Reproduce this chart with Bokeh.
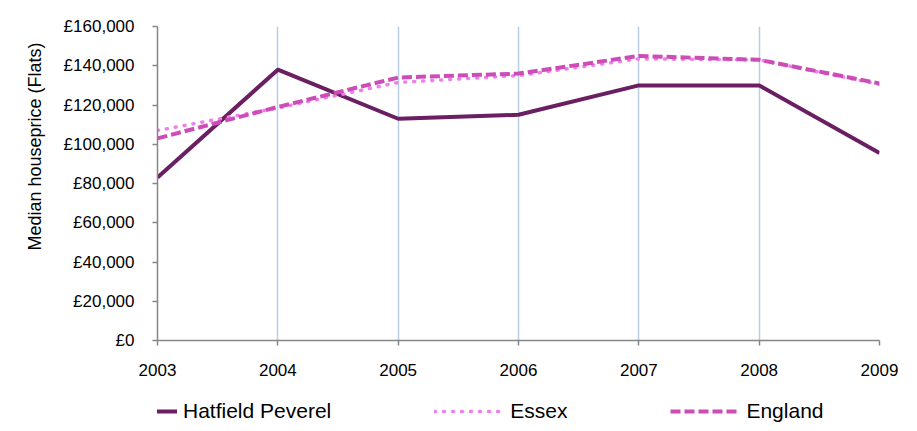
from bokeh.plotting import figure
from bokeh.layouts import column
from bokeh.models import (Range1d, FixedTicker, Legend, LegendItem, Title,
                          ColumnDataSource)
from bokeh.embed import file_html
from bokeh.resources import INLINE

years = [2003, 2004, 2005, 2006, 2007, 2008, 2009]
hatfield = [83000, 138000, 113000, 115000, 130000, 130000, 95500]
essex = [107000, 118500, 131500, 135000, 143500, 143000, 130500]
england = [103000, 119000, 134000, 136000, 145000, 143000, 131000]

y_ticks = [0, 20000, 40000, 60000, 80000, 100000, 120000, 140000, 160000]
y_tick_labels = ["£0", "£20,000", "£40,000", "£60,000", "£80,000",
                 "£100,000", "£120,000", "£140,000", "£160,000"]
x_tick_labels = ["2003", "2004", "2005", "2006", "2007", "2008", "2009"]

series_names = ["Hatfield Peverel", "Essex", "England"]
y_title = "Median houseprice (Flats)"

FONT = "Liberation Sans"
COLORS = ["#6A1F62", "#F07EEE", "#CC4CB8"]
WIDTHS = [4, 3.5, 4]
DASHES = ["solid", "1 8", "10 4"]
CAPS = ["butt", "round", "butt"]
COLS = ["hatfield", "essex", "england"]

fig = figure(width=909, height=383, output_backend="svg", toolbar_location=None,
             x_range=Range1d(2003, 2009), y_range=Range1d(0, 160000),
             min_border_left=157, min_border_right=30, min_border_top=26,
             min_border_bottom=43)
fig.outline_line_color = None
fig.background_fill_color = "white"
fig.border_fill_color = "white"

fig.ygrid.grid_line_color = None
fig.xgrid.grid_line_color = "#B9CDE5"
fig.xgrid.grid_line_width = 1.5
fig.xgrid.ticker = FixedTicker(ticks=years)

fig.yaxis.ticker = FixedTicker(ticks=y_ticks)
fig.yaxis.major_label_overrides = {t: l for t, l in zip(y_ticks, y_tick_labels)}
fig.xaxis.ticker = FixedTicker(ticks=years)
fig.xaxis.major_label_overrides = {t: l for t, l in zip(years, x_tick_labels)}
for ax in (fig.xaxis[0], fig.yaxis[0]):
    ax.axis_line_color = "#868686"
    ax.axis_line_width = 1.5
    ax.major_tick_line_color = "#868686"
    ax.major_tick_line_width = 1.5
    ax.major_tick_in = 0
    ax.major_tick_out = 5
    ax.minor_tick_line_color = None
    ax.major_label_text_font = FONT
    ax.major_label_text_font_size = "17px"
    ax.major_label_text_color = "black"
fig.yaxis.major_label_standoff = 18
fig.xaxis.major_label_standoff = 18

src = ColumnDataSource(dict(year=years, hatfield=hatfield, essex=essex, england=england))
for col, c, w, d, cap in zip(COLS, COLORS, WIDTHS, DASHES, CAPS):
    fig.line("year", col, source=src, line_color=c, line_width=w, line_dash=d,
             line_cap=cap, line_join="round")

title = Title(text=y_title, align="right", offset=16, text_font=FONT,
              text_font_size="18px", text_font_style="normal", text_color="black",
              standoff=32)
fig.add_layout(title, "left")

# legend strip below the chart (its own series lie outside its visible range)
lf = figure(width=909, height=40, output_backend="svg", toolbar_location=None,
            x_axis_type=None, y_axis_type=None, x_range=Range1d(0, 1),
            y_range=Range1d(0, 1), min_border_left=157, min_border_right=30,
            min_border_top=0, min_border_bottom=0)
lf.outline_line_color = None
lf.grid.grid_line_color = None
lf.border_fill_color = "white"
lf.background_fill_color = "white"
proxies = []
for col, c, w, d, cap in zip(COLS, COLORS, WIDTHS, DASHES, CAPS):
    proxies.append(lf.line("year", col, source=src, line_color=c, line_width=w,
                           line_dash=d, line_cap=cap))
leg = Legend(items=[LegendItem(label=n, renderers=[r]) for n, r in zip(series_names, proxies)],
             location=(-50, 0), orientation="horizontal", padding=0, margin=0,
             spacing=103, border_line_color=None, background_fill_alpha=0,
             glyph_width=70, glyph_height=16, label_standoff=6,
             label_text_font=FONT, label_text_font_size="21px",
             label_text_color="black", label_height=16)
lf.add_layout(leg)

p = column(fig, lf, spacing=0)

open("out.html", "w").write(file_html(p, INLINE))
